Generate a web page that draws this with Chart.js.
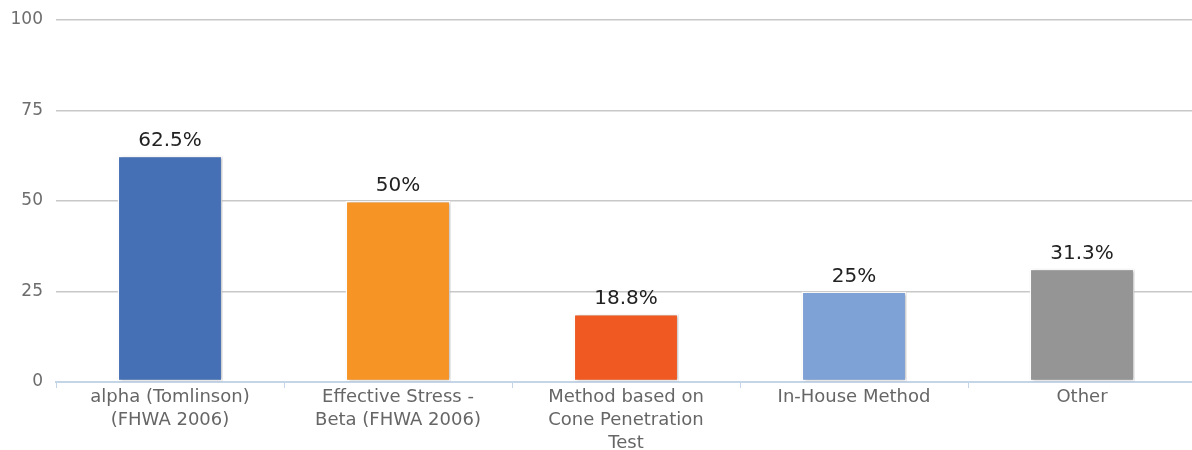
<!DOCTYPE html>
<html>
<head>
<meta charset="utf-8">
<script src="https://cdn.jsdelivr.net/npm/chart.js@4"></script>
<style>
html,body{margin:0;padding:0;background:#fff;overflow:hidden;}
#wrap{width:1196px;height:450px;position:relative;}
</style>
</head>
<body>
<div id="wrap"><canvas id="c"></canvas></div>
<script>
const categories = [
  ['alpha (Tomlinson)', '(FHWA 2006)'],
  ['Effective Stress -', 'Beta (FHWA 2006)'],
  ['Method based on', 'Cone Penetration', 'Test'],
  ['In-House Method'],
  ['Other']
];
const values = [62.5, 50, 18.8, 25, 31.3];
const valueLabels = ['62.5%', '50%', '18.8%', '25%', '31.3%'];
const barColors = ['#4670B5', '#F79426', '#F05A22', '#7FA2D6', '#959595'];
const yTicks = [0, 25, 50, 75, 100];

const shadowPlugin = {
  id: 'barShadow',
  beforeDatasetsDraw(chart) {
    const ctx = chart.ctx;
    ctx.save();
    ctx.shadowColor = 'rgba(0,0,0,0.4)';
    ctx.shadowBlur = 3;
    ctx.shadowOffsetX = 1.5;
    ctx.shadowOffsetY = 0.5;
  },
  afterDatasetsDraw(chart) {
    chart.ctx.restore();
  }
};

const valueLabelPlugin = {
  id: 'valueLabels',
  afterDatasetsDraw(chart) {
    const ctx = chart.ctx;
    const meta = chart.getDatasetMeta(0);
    ctx.save();
    ctx.font = '20px "DejaVu Sans"';
    ctx.fillStyle = '#222';
    ctx.textAlign = 'center';
    ctx.textBaseline = 'alphabetic';
    meta.data.forEach((bar, i) => {
      ctx.fillText(valueLabels[i], bar.x, bar.y - 10);
    });
    ctx.restore();
  }
};

new Chart(document.getElementById('c'), {
  type: 'bar',
  data: {
    labels: categories,
    datasets: [{
      data: values,
      backgroundColor: barColors,
      borderColor: '#ffffff',
      borderWidth: 1.5,
      borderSkipped: false,
      categoryPercentage: 1,
      barPercentage: 0.46
    }]
  },
  options: {
    responsive: true,
    maintainAspectRatio: false,
    animation: false,
    layout: { padding: { top: 20, right: 0, bottom: 0, left: 0 } },
    plugins: {
      legend: { display: false },
      tooltip: { enabled: false }
    },
    scales: {
      x: {
        grid: {
          display: true,
          drawOnChartArea: false,
          drawTicks: true,
          tickLength: 6,
          color: '#C5D5E8',
          offset: true
        },
        border: { display: true, color: '#C5D5E8', width: 2 },
        ticks: {
          color: '#666',
          font: { family: 'DejaVu Sans', size: 18, lineHeight: 1.28 },
          padding: -2,
          maxRotation: 0,
          autoSkip: false
        },
        afterFit(scale) { scale.height = 68; }
      },
      y: {
        min: 0,
        max: 100,
        afterBuildTicks(scale) { scale.ticks = yTicks.map(v => ({ value: v })); },
        grid: { color: '#C8C8C8', lineWidth: 1.5, drawTicks: false },
        border: { display: false },
        ticks: {
          color: '#6d6d6d',
          font: { family: 'DejaVu Sans', size: 17 },
          padding: 13
        },
        afterFit(scale) { scale.width = 56; scale.paddingTop = 0; scale.paddingBottom = 0; }
      }
    }
  },
  plugins: [shadowPlugin, valueLabelPlugin]
});
</script>
</body>
</html>
